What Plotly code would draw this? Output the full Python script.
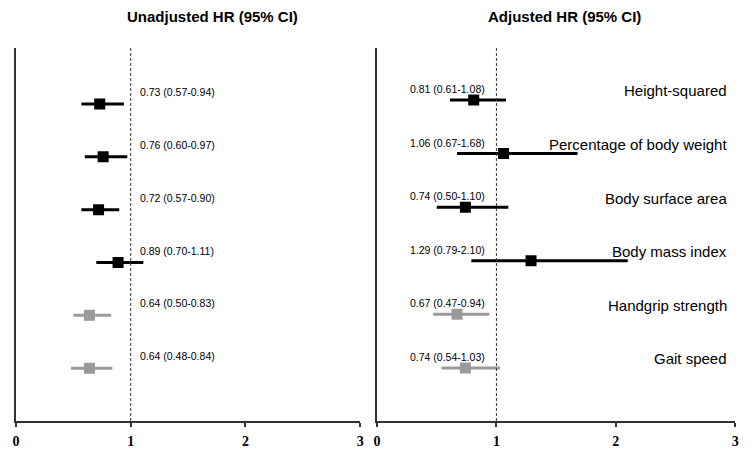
import plotly.graph_objects as go

# ---- data ----
measures = ["Height-squared", "Percentage of body weight", "Body surface area",
            "Body mass index", "Handgrip strength", "Gait speed"]
rows = [1, 2, 3, 4, 5, 6]

unadj_hr = [0.73, 0.76, 0.72, 0.89, 0.64, 0.64]
unadj_lo = [0.57, 0.60, 0.57, 0.70, 0.50, 0.48]
unadj_hi = [0.94, 0.97, 0.90, 1.11, 0.83, 0.84]

adj_hr = [0.81, 1.06, 0.74, 1.29, 0.67, 0.74]
adj_lo = [0.61, 0.67, 0.50, 0.79, 0.47, 0.54]
adj_hi = [1.08, 1.68, 1.10, 2.10, 0.94, 1.03]

groups = ["black", "black", "black", "black", "gray", "gray"]
x_ticks = [0, 1, 2, 3]

# ---- style ----
COLORS = {"black": "#000000", "gray": "#9a9a9a"}
OFF = 8  # default page body margin in the browser
W, H = 754 - OFF, 453 - OFF
fig = go.Figure()


def px(v):
    return (v - OFF) / W


def add_panel(hr, lo, hi, xa, ya):
    for g, col in COLORS.items():
        idx = [i for i in range(len(rows)) if groups[i] == g]
        fig.add_trace(go.Scatter(
            x=[hr[i] for i in idx], y=[rows[i] for i in idx],
            mode="markers",
            marker=dict(symbol="square", size=11, color=col),
            error_x=dict(type="data", symmetric=False,
                         array=[hi[i] - hr[i] for i in idx],
                         arrayminus=[hr[i] - lo[i] for i in idx],
                         color=col, thickness=3, width=0),
            xaxis=xa, yaxis=ya, showlegend=False, hoverinfo="skip"))


add_panel(unadj_hr, unadj_lo, unadj_hi, "x", "y")
add_panel(adj_hr, adj_lo, adj_hi, "x2", "y2")

lab_font = dict(family="Liberation Sans, Arial", size=10.5, color="#000")
ann = []
for i, r in enumerate(rows):
    ann.append(dict(x=1.06, y=r, xref="x", yref="y", xanchor="left", yanchor="middle",
                    yshift=12, showarrow=False,
                    text=f"{unadj_hr[i]:.2f} ({unadj_lo[i]:.2f}-{unadj_hi[i]:.2f})",
                    font=lab_font))
    ann.append(dict(x=0.917, y=r, xref="x2", yref="y2", xanchor="right", yanchor="middle",
                    yshift=11, showarrow=False,
                    text=f"{adj_hr[i]:.2f} ({adj_lo[i]:.2f}-{adj_hi[i]:.2f})",
                    font=lab_font))
    ann.append(dict(x=2.95, y=r, xref="x2", yref="y2", xanchor="right", yanchor="middle",
                    yshift=9, showarrow=False, text=measures[i],
                    font=dict(family="Liberation Sans, Arial", size=15, color="#000")))

ann.append(dict(x=px(211), y=1, xref="paper", yref="paper", xanchor="center",
                yanchor="middle", yshift=32, showarrow=False,
                text="<b>Unadjusted HR (95% CI)</b>",
                font=dict(family="Liberation Sans, Arial", size=15, color="#000")))
ann.append(dict(x=px(566), y=1, xref="paper", yref="paper", xanchor="center",
                yanchor="middle", yshift=32, showarrow=False,
                text="<b>Adjusted HR (95% CI)</b>",
                font=dict(family="Liberation Sans, Arial", size=15, color="#000")))

shapes = [
    dict(type="line", xref="x", yref="y domain", x0=1, x1=1, y0=0, y1=1,
         line=dict(color="#333", width=1, dash="3px,2px")),
    dict(type="line", xref="x2", yref="y2 domain", x0=1, x1=1, y0=0, y1=1,
         line=dict(color="#333", width=1, dash="3px,2px")),
]

xcommon = dict(range=[0, 3], tickvals=x_ticks, showline=True, linecolor="#333", linewidth=1.5,
               ticks="outside", ticklen=4, tickcolor="#333", tickwidth=1.5,
               ticklabelstandoff=2,
               showgrid=False, zeroline=False,
               tickfont=dict(family="Liberation Serif, Times New Roman", size=14,
                             color="#000", weight="bold"))
ycommon = dict(showline=True, linecolor="#333", linewidth=2, ticks="", showticklabels=False,
               showgrid=False, zeroline=False)

fig.update_layout(
    width=W, height=H, margin=dict(l=0, r=0, t=48 - OFF, b=H - (421 - OFF)),
    paper_bgcolor="white", plot_bgcolor="white",
    xaxis=dict(domain=[px(12), px(360)], anchor="y", **xcommon),
    xaxis2=dict(domain=[px(377), px(739)], anchor="y2", **xcommon),
    yaxis=dict(range=[7.0, -0.06], anchor="x", **ycommon),
    yaxis2=dict(range=[6.99, 0.03], anchor="x2", **ycommon),
    annotations=ann, shapes=shapes,
)

fig.write_html("out.html", config={"displayModeBar": False})
